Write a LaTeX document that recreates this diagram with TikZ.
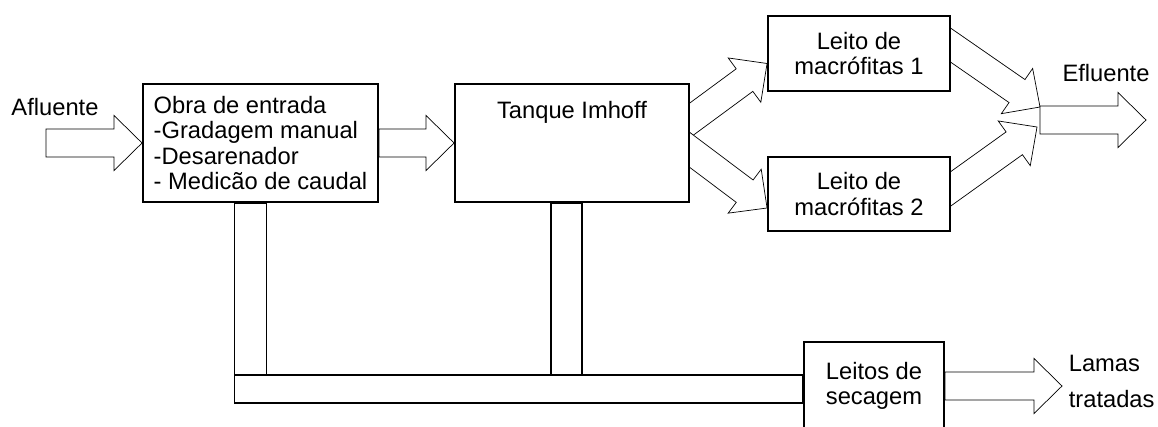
\documentclass[tikz,border=0pt]{standalone}
\usepackage{fontspec}
\setmainfont{Liberation Sans}
\usetikzlibrary{positioning, calc, backgrounds}

% outlined block arrow from #1 to the tip #2
\newcommand{\flowarrow}[2]{%
  \coordinate (neck) at ($(#2)!0.56cm!(#1)$);
  \draw[flow] ($(#1)!0.28cm!90:(#2)$) -- ($(neck)!0.28cm!90:(#2)$) -- ($(neck)!0.55cm!90:(#2)$) -- (#2)
    -- ($(neck)!0.55cm!-90:(#2)$) -- ($(neck)!0.28cm!-90:(#2)$) -- ($(#1)!0.28cm!-90:(#2)$) -- cycle;
}

\begin{document}
\begin{tikzpicture}[
        x=0.02cm, y=-0.02cm, line width=1.1pt,
        font=\fontsize{13.5}{14.6}\selectfont,
        % Define styles
        unit/.style={draw, fill=white, align=center, inner sep=0pt},
        flow/.style={draw, fill=white, line join=miter}
    ]
    \useasboundingbox (0,0) rectangle (1158,426);
    \clip (0,0) rectangle (1158,426);

    % 1. Treatment units
    \node[unit, align=left, minimum width=4.7cm, minimum height=2.36cm] (obra) at (260.5,143)
        {Obra de entrada\\-Gradagem manual\\-Desarenador\\- Medicão de caudal};
    \node[unit, minimum width=4.68cm, minimum height=2.36cm,
        label={[anchor=north, yshift=-0.22cm]north:Tanque Imhoff}] (tanque) at (572,143) {};
    \node[unit, minimum width=3.64cm, minimum height=1.5cm] (leito1) at (859,53.5) {Leito de\\macrófitas 1};
    \node[unit, minimum width=3.64cm, minimum height=1.48cm] (leito2) at (859,194) {Leito de\\macrófitas 2};
    \node[unit, minimum width=2.8cm, minimum height=1.76cm] (secagem) at (874,386) {Leitos de\\secagem};

    % 2. Inflow / outflow labels
    \node (afluente) at (55,107) {Afluente};
    \node (efluente) at (1106,73) {Efluente};
    \node[anchor=west, align=left] (lamas) at (1062,381.5) {Lamas\\[0.2cm]tratadas};

    % 3. Arrow ends
    \coordinate (aflstart) at (46,143);
    \coordinate (eflstart) at (1040,120);
    \coordinate (efltip) at (1146,120);
    \coordinate (lamastip) at (1062,386);
    \coordinate (tsplit) at ($(tanque.east)+(-20,-8)$);
    \coordinate (l1in) at ($(leito1.west)+(0,10)$);
    \coordinate (l2in) at ($(leito2.west)+(0,14)$);
    \coordinate (l1out) at ($(leito1.east)+(-20,-22)$);
    \coordinate (l2out) at ($(leito2.east)+(-20,9)$);
    \coordinate (efl1) at ($(eflstart)+(0,-13)$);
    \coordinate (efl2) at ($(eflstart)+(-3,7)$);

    % Block arrows (behind the boxes)
    \begin{scope}[on background layer]
        \flowarrow{aflstart}{obra.west}
        \flowarrow{obra.east}{tanque.west}
        \flowarrow{tsplit}{l1in}
        \flowarrow{tsplit}{l2in}
        \flowarrow{l1out}{efl1}
        \flowarrow{l2out}{efl2}
        \flowarrow{eflstart}{efltip}
        \flowarrow{secagem.east}{lamastip}
    \end{scope}

    % 4. Sludge lines to the drying beds
    \draw ($(obra.south)+(-26,0)$) rectangle ($(obra.south)+(6,172)$);
    \draw ($(tanque.south)+(-21,0)$) rectangle ($(tanque.south)+(10,172)$);
    \draw ($(obra.south)+(-26,172)$) rectangle ($(secagem.west)+(0,17)$);

\end{tikzpicture}
\end{document}
